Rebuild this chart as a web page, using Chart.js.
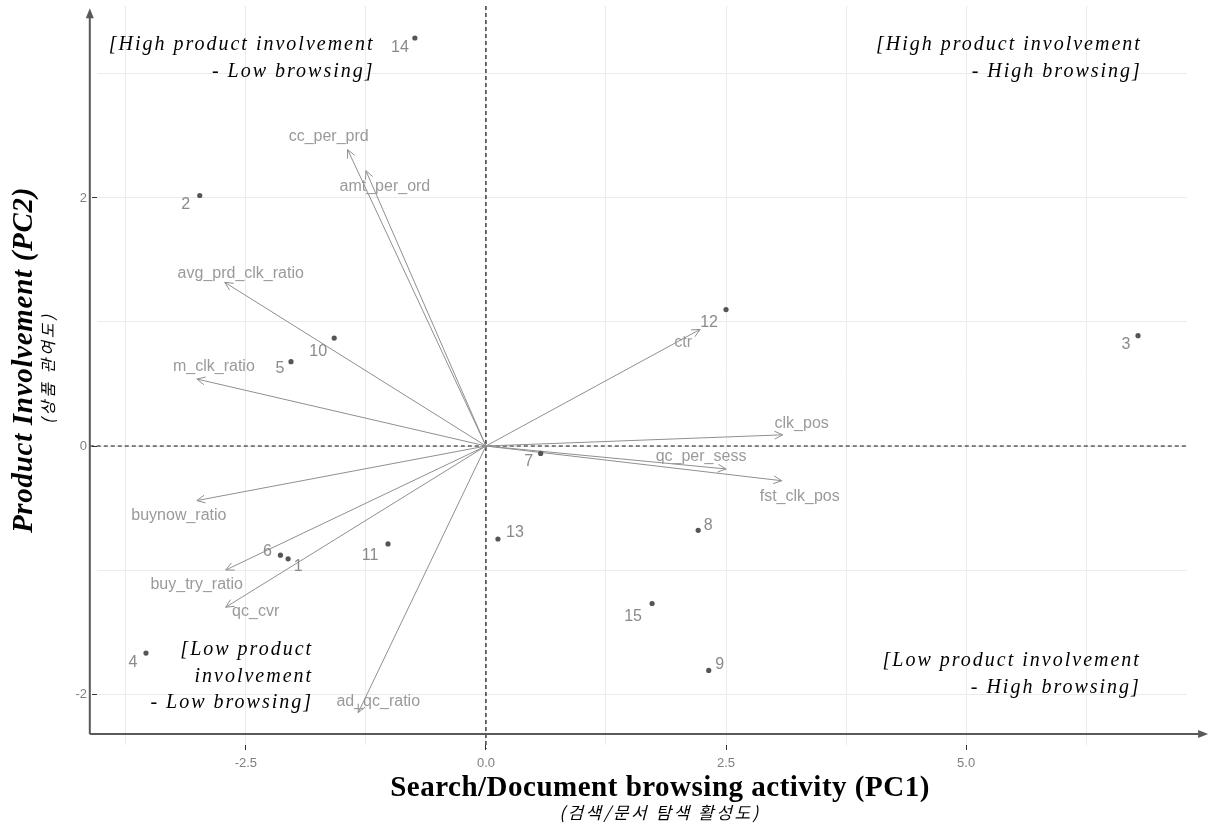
<!DOCTYPE html>
<html>
<head>
<meta charset="utf-8">
<script src="https://cdn.jsdelivr.net/npm/chart.js@4.4.1/dist/chart.umd.min.js"></script>
<style>
  html, body { margin: 0; padding: 0; background: #ffffff; }
  #wrap { width: 1209px; height: 825px; }
</style>
</head>
<body>
<div id="wrap"><canvas id="biplot" width="1209" height="825"></canvas></div>
<script>
// Observation scores on the first two principal components
const obsIds = ['1', '2', '3', '4', '5', '6', '7', '8', '9', '10', '11', '12', '13', '14', '15'];
const obsPC1 = [-2.06, -2.98, 6.79, -3.54, -2.03, -2.14, 0.57, 2.21, 2.32, -1.58, -1.02, 2.50, 0.125, -0.74, 1.73];
const obsPC2 = [-0.91, 2.02, 0.89, -1.67, 0.68, -0.88, -0.06, -0.68, -1.81, 0.87, -0.79, 1.10, -0.75, 3.29, -1.27];

// Variable loadings (arrow tips)
const varNames = ['cc_per_prd', 'amt_per_ord', 'avg_prd_clk_ratio', 'm_clk_ratio', 'buynow_ratio',
                  'buy_try_ratio', 'qc_cvr', 'ad_qc_ratio', 'ctr', 'clk_pos', 'qc_per_sess', 'fst_clk_pos'];
const varPC1 = [-1.44, -1.25, -2.72, -3.01, -3.01, -2.71, -2.71, -1.33, 2.23, 3.09, 2.50, 3.08];
const varPC2 = [2.39, 2.22, 1.32, 0.54, -0.44, -1.00, -1.30, -2.15, 0.94, 0.09, -0.185, -0.28];

// Axis breaks (major ones carry a label, minor ones only a grid line)
const xTickValues = [-3.75, -2.5, -1.25, 0, 1.25, 2.5, 3.75, 5, 6.25];
const xTickLabels = ['', '-2.5', '', '0.0', '', '2.5', '', '5.0', ''];
const yTickValues = [-2, -1, 0, 1, 2, 3];
const yTickLabels = ['-2', '', '0', '', '2', ''];

// Quadrant captions
const quadrantText = [
  ['[High product involvement', '- Low browsing]'],
  ['[High product involvement', '- High browsing]'],
  ['[Low product', 'involvement', '- Low browsing]'],
  ['[Low product involvement', '- High browsing]']
];

// ---- layout / styling (kept apart from the data) ----
const xRange = [-4.05, 7.30];
const yRange = [-2.411, 3.548];
const quadrantAnchor = [[-1.16, 3.234], [6.83, 3.234], [-1.80, -1.645], [6.82, -1.734]]; // right edge, first line
const axisCorner = [-4.125, -2.323];
const axisEnds = [7.52, 3.53];
// label offsets in px (dx, dy) from the mark
const obsLabelNudge = [[10, 8], [-14, 9], [-12, 9], [-13, 9], [-11, 7], [-13, -4], [-12, 8], [10, -5],
                       [11, -6], [-16, 13], [-18, 12], [-17, 13], [17, -6], [-15, 10], [-19, 13]];
const varLabelNudge = [[-19, -13], [19, 16], [16, -9], [17, -12], [-18, 15], [-29, 15], [30, 4],
                       [20, -11], [-17, 13], [19, -11], [-25, -12], [18, 16]];

const GRAY_TEXT = '#8a8a8a';
const ARROW_GRAY = '#8f8f8f';

const loadingSets = varNames.map((name, i) => ({
  label: name,
  type: 'scatter',
  showLine: true,
  data: [{ x: 0, y: 0 }, { x: varPC1[i], y: varPC2[i] }],
  borderColor: ARROW_GRAY,
  borderWidth: 1,
  pointRadius: 0,
  order: 2
}));

const scoreSet = {
  label: 'scores',
  type: 'scatter',
  data: obsIds.map((id, i) => ({ x: obsPC1[i], y: obsPC2[i] })),
  backgroundColor: '#555555',
  borderWidth: 0,
  pointRadius: 2.6,
  order: 1
};

function drawSpaced(ctx, text, x, y, spacing) {
  ctx.letterSpacing = spacing + 'px';
  ctx.fillText(text, x, y);
  ctx.letterSpacing = '0px';
}

const biplotDecor = {
  id: 'biplotDecor',
  beforeDatasetsDraw(chart) {
    const { ctx, chartArea: a, scales: { x, y } } = chart;
    const x0 = x.getPixelForValue(0), y0 = y.getPixelForValue(0);
    const ax = x.getPixelForValue(axisCorner[0]);
    ctx.save();
    ctx.strokeStyle = '#111';
    ctx.lineWidth = 1.2;
    ctx.setLineDash([4, 3]);
    ctx.beginPath(); ctx.moveTo(ax, y0); ctx.lineTo(a.right, y0); ctx.stroke();
    ctx.beginPath(); ctx.moveTo(x0, a.top); ctx.lineTo(x0, a.bottom + 4); ctx.stroke();
    ctx.restore();
  },
  afterDatasetsDraw(chart) {
    const { ctx, scales: { x, y } } = chart;
    ctx.save();
    // open arrow heads on the loading vectors
    ctx.strokeStyle = ARROW_GRAY;
    ctx.lineWidth = 1;
    varNames.forEach((n, i) => {
      const tx = x.getPixelForValue(varPC1[i]), ty = y.getPixelForValue(varPC2[i]);
      const bx = x.getPixelForValue(0), by = y.getPixelForValue(0);
      const ang = Math.atan2(ty - by, tx - bx);
      const L = 9, spread = Math.PI / 7;
      ctx.beginPath();
      ctx.moveTo(tx - L * Math.cos(ang - spread), ty - L * Math.sin(ang - spread));
      ctx.lineTo(tx, ty);
      ctx.lineTo(tx - L * Math.cos(ang + spread), ty - L * Math.sin(ang + spread));
      ctx.stroke();
    });
    // loading names
    ctx.font = '16px "Liberation Sans", Arial, sans-serif';
    ctx.fillStyle = '#9a9a9a';
    ctx.textAlign = 'center';
    ctx.textBaseline = 'middle';
    varNames.forEach((n, i) => {
      ctx.fillText(n, x.getPixelForValue(varPC1[i]) + varLabelNudge[i][0],
                      y.getPixelForValue(varPC2[i]) + varLabelNudge[i][1]);
    });
    // observation ids
    ctx.fillStyle = GRAY_TEXT;
    obsIds.forEach((id, i) => {
      ctx.fillText(id, x.getPixelForValue(obsPC1[i]) + obsLabelNudge[i][0],
                       y.getPixelForValue(obsPC2[i]) + obsLabelNudge[i][1]);
    });
    // quadrant captions
    ctx.fillStyle = '#000';
    ctx.font = 'italic 20px "Liberation Serif", "Times New Roman", serif';
    ctx.textAlign = 'right';
    quadrantText.forEach((lines, q) => {
      const rx = x.getPixelForValue(quadrantAnchor[q][0]);
      const ry = y.getPixelForValue(quadrantAnchor[q][1]);
      lines.forEach((ln, k) => drawSpaced(ctx, ln, rx, ry + k * 26.5, 2));
    });
    ctx.restore();
  },
  afterDraw(chart) {
    const { ctx, scales: { x, y } } = chart;
    const cx = x.getPixelForValue(axisCorner[0]), cy = y.getPixelForValue(axisCorner[1]);
    const ex = x.getPixelForValue(axisEnds[0]), ey = y.getPixelForValue(axisEnds[1]);
    ctx.save();
    ctx.strokeStyle = '#595959';
    ctx.fillStyle = '#595959';
    ctx.lineWidth = 2;
    ctx.beginPath(); ctx.moveTo(cx, cy); ctx.lineTo(ex - 8, cy); ctx.stroke();
    ctx.beginPath(); ctx.moveTo(cx, cy); ctx.lineTo(cx, ey + 8); ctx.stroke();
    ctx.beginPath(); ctx.moveTo(ex, cy); ctx.lineTo(ex - 10, cy - 4); ctx.lineTo(ex - 10, cy + 4); ctx.closePath(); ctx.fill();
    ctx.beginPath(); ctx.moveTo(cx, ey); ctx.lineTo(cx - 4, ey + 10); ctx.lineTo(cx + 4, ey + 10); ctx.closePath(); ctx.fill();

    // axis titles
    ctx.fillStyle = '#000';
    ctx.textAlign = 'center';
    ctx.textBaseline = 'alphabetic';
    ctx.font = 'bold 29px "Liberation Serif", "Times New Roman", serif';
    drawSpaced(ctx, 'Search/Document browsing activity (PC1)', 660, 796, 0.5);
    ctx.textBaseline = 'middle';
    ctx.font = 'italic 17px "Noto Sans CJK KR", sans-serif';
    drawSpaced(ctx, '(검색/문서 탐색 활성도)', 660, 813, 2.5);

    ctx.save();
    ctx.translate(32, 360);
    ctx.rotate(-Math.PI / 2);
    ctx.textBaseline = 'alphabetic';
    ctx.font = 'italic bold 29px "Liberation Serif", "Times New Roman", serif';
    drawSpaced(ctx, 'Product Involvement (PC2)', 0, 0, 0.7);
    ctx.restore();

    ctx.save();
    ctx.translate(48, 368);
    ctx.rotate(-Math.PI / 2);
    ctx.textBaseline = 'middle';
    ctx.font = 'italic 16px "Noto Sans CJK KR", sans-serif';
    drawSpaced(ctx, '(상품 관여도)', 0, 0, 3);
    ctx.restore();
    ctx.restore();
  }
};

new Chart(document.getElementById('biplot'), {
  type: 'scatter',
  data: { datasets: [...loadingSets, scoreSet] },
  options: {
    responsive: false,
    devicePixelRatio: 1,
    animation: false,
    layout: { padding: { top: 6, right: 22, bottom: 0, left: 0 } },
    plugins: { legend: { display: false }, tooltip: { enabled: false }, title: { display: false } },
    scales: {
      x: {
        type: 'linear',
        min: xRange[0],
        max: xRange[1],
        afterBuildTicks: s => { s.ticks = xTickValues.map(v => ({ value: v })); },
        afterFit: s => { s.height = 80; s.paddingLeft = 0; s.paddingRight = 0; },
        border: { display: false },
        grid: {
          color: '#ebebeb',
          lineWidth: 1,
          tickLength: 5,
          tickColor: c => (xTickLabels[c.index] ? '#333333' : 'rgba(0,0,0,0)')
        },
        ticks: {
          autoSkip: false,
          maxRotation: 0,
          padding: 6,
          color: '#7f7f7f',
          font: { family: '"Liberation Sans", Arial, sans-serif', size: 13 },
          callback: (v, i) => xTickLabels[i]
        }
      },
      y: {
        type: 'linear',
        min: yRange[0],
        max: yRange[1],
        afterBuildTicks: s => { s.ticks = yTickValues.map(v => ({ value: v })); },
        afterFit: s => { s.width = 97; s.paddingTop = 0; s.paddingBottom = 0; },
        border: { display: false },
        grid: {
          color: '#ebebeb',
          lineWidth: 1,
          tickLength: 5,
          tickColor: c => (yTickLabels[c.index] ? '#333333' : 'rgba(0,0,0,0)')
        },
        ticks: {
          autoSkip: false,
          padding: 5,
          color: '#7f7f7f',
          font: { family: '"Liberation Sans", Arial, sans-serif', size: 13 },
          callback: (v, i) => yTickLabels[i]
        }
      }
    }
  },
  plugins: [biplotDecor]
});
</script>
</body>
</html>
